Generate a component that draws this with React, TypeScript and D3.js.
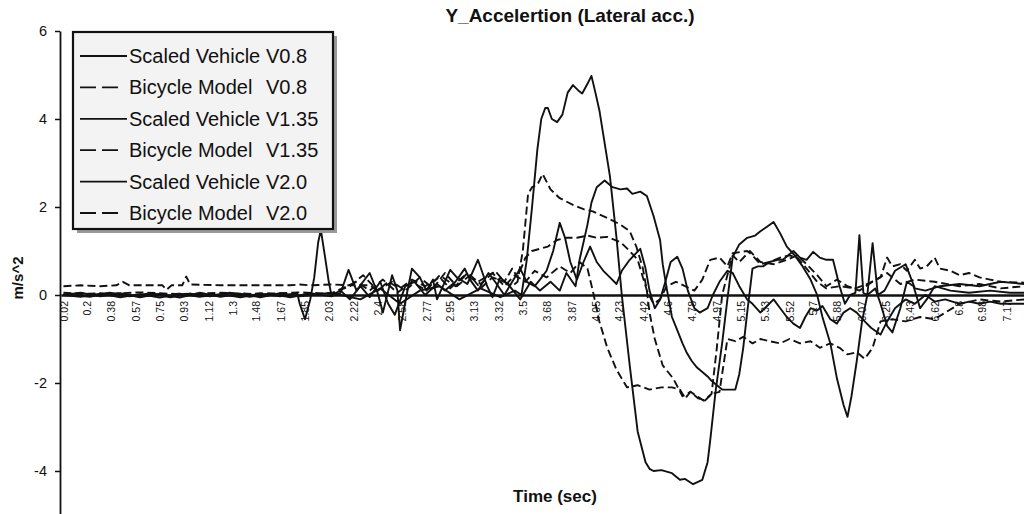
import React, { useEffect, useRef } from "react";
import * as d3 from "d3";

type Pt = [number, number];

// Axis ticks
const yTickValues = [6, 4, 2, 0, -2, -4];
const xTickLabels = [
  "0.02", "0.2", "0.38", "0.57", "0.75", "0.93", "1.12", "1.3", "1.48", "1.67",
  "1.85", "2.03", "2.22", "2.4", "2.58", "2.77", "2.95", "3.13", "3.32", "3.5",
  "3.68", "3.87", "4.05", "4.23", "4.42", "4.6", "4.78", "4.97", "5.15", "5.33",
  "5.52", "5.7", "5.88", "6.07", "6.25", "6.43", "6.62", "6.8", "6.98", "7.17",
];

// Lateral acceleration [time (s), m/s^2]
const scaledV08: Pt[] = [
  [0.02, 0.0], [0.15, -0.04], [0.3, 0.03], [0.45, -0.05], [0.6, 0.02], [0.75, -0.06], [0.9, 0.03],
  [1.05, -0.04], [1.21, 0.02], [1.36, -0.05], [1.51, 0.03], [1.66, -0.03], [1.74, 0.02], [1.79, 0.05],
  [1.81, -0.2], [1.85, -0.55], [1.89, -0.1], [1.92, 0.4], [1.95, 1.2], [1.97, 1.48], [2.0, 0.9],
  [2.03, 0.3], [2.05, 0.0], [2.12, 0.1], [2.19, -0.1], [2.27, 0.2], [2.34, -0.05], [2.42, 0.3],
  [2.48, -0.2], [2.53, -0.45], [2.61, 0.2], [2.68, 0.3], [2.76, 0.0], [2.85, 0.25], [2.91, 0.1],
  [2.99, 0.3], [3.06, 0.6], [3.1, 0.35], [3.16, 0.1], [3.24, 0.5], [3.29, 0.3], [3.36, 0.0],
  [3.42, 0.3], [3.48, 0.6], [3.53, 0.3], [3.59, 0.2], [3.63, 0.35], [3.68, 0.55], [3.73, 1.0],
  [3.78, 1.64], [3.82, 1.3], [3.86, 0.75], [3.91, 0.35], [3.96, 0.75], [4.01, 1.1], [4.06, 0.75],
  [4.11, 0.55], [4.16, 0.4], [4.21, 0.25], [4.25, 0.55], [4.31, 0.8], [4.39, 1.05], [4.43, 0.6],
  [4.46, 0.1], [4.5, -0.3], [4.54, -0.1], [4.58, 0.3], [4.62, 0.75], [4.67, 0.87], [4.71, 0.6],
  [4.75, 0.1], [4.8, -0.3], [4.84, -0.4], [4.9, -0.3], [4.94, 0.0], [4.99, 0.3], [5.05, 0.55],
  [5.09, 0.5], [5.14, 0.2], [5.2, -0.1], [5.24, -0.2], [5.3, -0.4], [5.35, -0.25], [5.4, -0.1],
  [5.45, -0.3], [5.5, -0.5], [5.55, -0.65], [5.6, -0.75], [5.64, -0.5], [5.68, -0.3], [5.73, -0.35],
  [5.77, -0.25], [5.83, -0.55], [5.88, -0.65], [5.93, -0.4], [5.98, -0.3], [6.03, -0.4], [6.09, -0.6],
  [6.14, -0.75], [6.21, -0.9], [6.26, -0.6], [6.32, -0.3], [6.4, -0.1], [6.47, -0.2], [6.55, 0.0],
  [6.62, -0.15], [6.7, -0.1], [6.81, -0.2], [6.88, -0.15], [6.96, -0.2], [7.04, -0.15], [7.12, -0.2],
  [7.3, -0.2],
];

const bicycleV08: Pt[] = [
  [0.02, 0.2], [0.15, 0.22], [0.3, 0.2], [0.42, 0.22], [0.47, 0.3], [0.52, 0.22], [0.68, 0.22],
  [0.77, 0.22], [0.8, 0.12], [0.84, 0.22], [0.92, 0.22], [0.95, 0.42], [0.98, 0.24], [1.21, 0.22],
  [1.43, 0.22], [1.74, 0.22], [1.81, 0.24], [1.89, 0.22], [2.05, 0.24], [2.19, 0.22], [2.34, 0.22],
  [2.4, 0.1], [2.48, 0.3], [2.57, 0.15], [2.66, 0.35], [2.76, 0.2], [2.87, 0.4], [2.95, 0.15],
  [3.06, 0.45], [3.16, 0.3], [3.27, 0.5], [3.36, 0.2], [3.44, 0.45], [3.52, 0.3], [3.59, 0.55],
  [3.68, 0.4], [3.78, 0.65], [3.86, 0.5], [3.93, 0.75], [3.99, 0.6], [4.03, 0.1], [4.08, -0.6],
  [4.14, -1.2], [4.21, -1.7], [4.29, -2.1], [4.37, -2.05], [4.46, -2.15], [4.55, -2.1], [4.63, -2.1],
  [4.69, -2.15], [4.73, -2.35], [4.77, -2.2], [4.83, -2.35], [4.88, -2.4], [4.93, -2.25], [4.99, -2.2],
  [5.05, -1.0], [5.11, -1.05], [5.17, -0.95], [5.24, -1.1], [5.3, -1.0], [5.37, -1.05], [5.45, -1.1],
  [5.52, -1.0], [5.6, -1.1], [5.68, -1.05], [5.75, -1.2], [5.83, -1.1], [5.9, -1.2], [5.96, -1.35],
  [6.03, -1.3], [6.09, -1.45], [6.15, -1.2], [6.21, -0.6], [6.3, -0.55], [6.4, -0.6], [6.51, -0.5],
  [6.62, -0.55], [6.7, -0.4], [6.81, -0.2], [6.96, -0.1], [7.12, -0.15], [7.3, -0.1],
];

const scaledV135: Pt[] = [
  [0.02, 0.02], [0.22, -0.04], [0.37, 0.05], [0.52, -0.03], [0.68, 0.04], [0.83, -0.05], [0.98, 0.03],
  [1.13, -0.03], [1.28, 0.05], [1.43, -0.04], [1.58, 0.03], [1.74, -0.05], [1.89, 0.04], [2.05, -0.03],
  [2.12, 0.05], [2.18, 0.57], [2.24, 0.1], [2.29, 0.3], [2.34, 0.5], [2.4, 0.05], [2.44, -0.4],
  [2.51, 0.45], [2.55, 0.1], [2.57, -0.8], [2.62, 0.0], [2.66, 0.6], [2.72, 0.4], [2.77, 0.1],
  [2.82, 0.35], [2.85, -0.1], [2.95, 0.57], [3.0, 0.4], [3.08, 0.25], [3.16, 0.8], [3.23, 0.2],
  [3.27, -0.05], [3.33, 0.4], [3.4, 0.2], [3.48, -0.1], [3.56, 0.3], [3.63, 0.1], [3.71, 0.3],
  [3.78, 0.1], [3.83, 0.5], [3.9, 0.2], [3.93, 0.8], [3.99, 1.6], [4.02, 2.1], [4.06, 2.45],
  [4.12, 2.6], [4.18, 2.45], [4.24, 2.4], [4.29, 2.42], [4.33, 2.3], [4.39, 2.35], [4.44, 2.25],
  [4.49, 1.8], [4.54, 1.25], [4.56, 0.7], [4.59, 0.15], [4.63, -0.5], [4.67, -0.8], [4.71, -1.1],
  [4.74, -1.3], [4.78, -1.5], [4.82, -1.65], [4.86, -1.75], [4.9, -1.85], [4.93, -1.95], [4.97, -2.05],
  [5.01, -2.15], [5.05, -2.15], [5.11, -2.15], [5.14, -1.8], [5.17, -1.2], [5.2, -0.4], [5.22, 0.1],
  [5.24, 0.6], [5.28, 0.65], [5.32, 0.65], [5.37, 0.75], [5.43, 0.8], [5.47, 0.8], [5.55, 1.0],
  [5.6, 0.85], [5.65, 0.8], [5.7, 0.98], [5.75, 0.85], [5.8, 0.8], [5.85, 0.8], [5.9, 0.2],
  [5.94, -0.2], [5.98, 0.0], [6.02, 0.05], [6.05, 1.36], [6.08, 0.05], [6.11, 0.0], [6.15, 1.18],
  [6.19, 0.0], [6.24, 0.1], [6.32, 0.55], [6.4, 0.7], [6.47, 0.15], [6.55, 0.1], [6.66, 0.2],
  [6.81, 0.25], [6.96, 0.2], [7.12, 0.3], [7.3, 0.25],
];

const bicycleV135: Pt[] = [
  [0.02, 0.05], [0.3, 0.02], [0.6, 0.06], [0.9, 0.02], [1.21, 0.05], [1.51, 0.02], [1.81, 0.06],
  [2.05, 0.03], [2.19, 0.2], [2.29, 0.45], [2.4, 0.1], [2.51, 0.3], [2.61, 0.1], [2.72, 0.4],
  [2.82, 0.15], [2.91, 0.5], [3.0, 0.2], [3.1, 0.45], [3.18, 0.15], [3.27, 0.4], [3.36, 0.3],
  [3.42, 0.6], [3.46, 0.4], [3.52, 0.85], [3.57, 1.0], [3.63, 1.05], [3.69, 1.1], [3.76, 1.25],
  [3.83, 1.3], [3.91, 1.3], [3.99, 1.35], [4.06, 1.3], [4.14, 1.32], [4.24, 1.2], [4.31, 1.0],
  [4.37, 0.8], [4.41, 0.4], [4.44, 0.1], [4.49, -0.2], [4.54, -0.1], [4.59, 0.2], [4.66, 0.3],
  [4.8, 0.1], [4.86, 0.35], [4.92, 0.8], [4.99, 0.85], [5.05, 0.65], [5.09, 0.95], [5.2, 1.0],
  [5.24, 0.9], [5.3, 0.7], [5.37, 0.75], [5.45, 0.85], [5.52, 0.9], [5.58, 0.85], [5.65, 0.6],
  [5.73, 0.3], [5.8, 0.15], [5.9, 0.2], [6.02, 0.15], [6.11, 0.25], [6.21, 0.4], [6.26, 0.85],
  [6.3, 0.65], [6.36, 0.7], [6.41, 0.55], [6.47, 0.8], [6.51, 0.6], [6.56, 0.65], [6.62, 0.85],
  [6.66, 0.6], [6.74, 0.55], [6.81, 0.45], [6.88, 0.5], [6.96, 0.4], [7.04, 0.35], [7.12, 0.3],
  [7.3, 0.28],
];

const scaledV20: Pt[] = [
  [0.02, 0.0], [0.15, 0.05], [0.3, -0.03], [0.45, 0.04], [0.6, -0.05], [0.75, 0.03], [0.9, -0.06],
  [1.05, 0.05], [1.21, -0.04], [1.36, 0.03], [1.51, -0.05], [1.66, 0.04], [1.81, -0.03], [2.05, 0.05],
  [2.27, -0.1], [2.42, 0.15], [2.57, -0.2], [2.72, 0.1], [2.87, 0.2], [3.02, -0.1], [3.18, 0.15],
  [3.33, -0.05], [3.44, 0.1], [3.49, 0.0], [3.53, 0.8], [3.57, 2.0], [3.61, 3.3], [3.64, 4.0],
  [3.67, 4.25], [3.69, 4.25], [3.72, 4.0], [3.76, 3.93], [3.8, 4.1], [3.84, 4.6], [3.88, 4.77],
  [3.92, 4.65], [3.95, 4.58], [3.99, 4.8], [4.02, 4.98], [4.05, 4.6], [4.08, 4.2], [4.16, 2.7],
  [4.21, 1.3], [4.25, 0.0], [4.31, -1.6], [4.37, -3.1], [4.43, -3.8], [4.46, -3.95], [4.49, -4.0],
  [4.55, -3.98], [4.63, -4.05], [4.69, -4.2], [4.73, -4.18], [4.79, -4.3], [4.86, -4.2], [4.9, -3.8],
  [4.92, -3.3], [4.96, -2.2], [5.01, -1.1], [5.05, -0.1], [5.09, 0.86], [5.14, 1.15], [5.2, 1.3],
  [5.26, 1.35], [5.3, 1.45], [5.35, 1.55], [5.4, 1.66], [5.45, 1.4], [5.5, 1.1], [5.56, 0.9],
  [5.62, 0.65], [5.68, 0.35], [5.73, 0.0], [5.77, -0.5], [5.83, -1.1], [5.88, -1.9], [5.93, -2.5],
  [5.96, -2.77], [5.99, -2.3], [6.03, -1.5], [6.07, -0.6], [6.11, 0.0], [6.17, 0.15], [6.21, -0.2],
  [6.26, -0.7], [6.3, -0.85], [6.36, -0.3], [6.41, 0.3], [6.46, 0.2], [6.51, -0.3], [6.56, -0.1],
  [6.62, 0.2], [6.74, 0.1], [6.88, 0.05], [7.04, 0.1], [7.19, 0.05], [7.3, 0.05],
];

const bicycleV20: Pt[] = [
  [0.02, 0.0], [0.3, 0.04], [0.6, -0.02], [0.9, 0.03], [1.21, -0.02], [1.51, 0.04], [1.81, 0.0],
  [2.05, 0.04], [2.24, 0.3], [2.34, 0.1], [2.44, 0.35], [2.55, 0.05], [2.66, 0.3], [2.77, 0.1],
  [2.87, 0.45], [2.99, 0.2], [3.08, 0.5], [3.18, 0.25], [3.29, 0.55], [3.36, 0.3], [3.42, 0.2],
  [3.46, 0.3], [3.5, 1.0], [3.54, 2.3], [3.57, 2.45], [3.61, 2.5], [3.65, 2.75], [3.71, 2.4],
  [3.78, 2.2], [3.88, 2.05], [3.96, 1.95], [4.03, 1.9], [4.14, 1.75], [4.24, 1.6], [4.31, 1.45],
  [4.36, 1.1], [4.41, 0.6], [4.44, 0.1], [4.46, -0.4], [4.5, -1.0], [4.56, -1.6], [4.64, -1.9],
  [4.71, -2.3], [4.77, -2.2], [4.82, -2.3], [4.87, -2.4], [4.93, -2.25], [4.97, -1.2], [5.01, 0.0],
  [5.09, 0.9], [5.14, 0.75], [5.22, 1.0], [5.3, 0.75], [5.4, 0.7], [5.5, 0.8], [5.58, 0.9],
  [5.65, 0.7], [5.73, 0.45], [5.8, 0.2], [5.88, 0.35], [5.96, 0.2], [6.05, 0.1], [6.15, 0.3],
  [6.26, 0.5], [6.36, 0.25], [6.47, 0.35], [6.62, 0.3], [6.81, 0.2], [6.96, 0.25], [7.12, 0.15],
  [7.3, 0.2],
];

const legendNames = ["Scaled Vehicle", "Bicycle Model", "Scaled Vehicle", "Bicycle Model", "Scaled Vehicle", "Bicycle Model"];
const legendVersions = ["V0.8", "V0.8", "V1.35", "V1.35", "V2.0", "V2.0"];
const seriesData = [scaledV08, bicycleV08, scaledV135, bicycleV135, scaledV20, bicycleV20];
const seriesDashed = [false, true, false, true, false, true];

const FONT = "'Liberation Sans', Arial, sans-serif";
const INK = "#111";
const W = 1024;
const H = 514;

const x = d3.scaleLinear().domain([0, 7.3]).range([60.8, 1024.4]);
const y = d3.scaleLinear().domain([-5, 6]).range([515, 31]);
const line = d3.line<Pt>().x((d) => x(d[0])).y((d) => y(d[1]));

export default function App() {
  const yAxisRef = useRef<SVGGElement>(null);
  const xAxisRef = useRef<SVGGElement>(null);

  useEffect(() => {
    const gy = d3.select(yAxisRef.current!);
    gy.call(
      d3.axisLeft(y).tickValues(yTickValues).tickSize(5).tickSizeOuter(0).tickPadding(8)
        .tickFormat((d) => String(d))
    );
    gy.select(".domain").attr("stroke", INK).attr("stroke-width", 1.8);
    gy.selectAll(".tick line").attr("stroke", INK).attr("stroke-width", 1.5);
    gy.selectAll(".tick text").attr("font-family", FONT).attr("font-size", 14.5).attr("fill", INK);

    const gx = d3.select(xAxisRef.current!);
    gx.call(
      d3.axisBottom(x).tickValues(xTickLabels.map(Number)).tickSize(0).tickSizeOuter(0)
        .tickFormat((_, i) => xTickLabels[i])
    );
    gx.select(".domain").attr("stroke", INK).attr("stroke-width", 2.6);
    gx.selectAll(".tick text")
      .attr("font-family", FONT)
      .attr("font-size", 10.5)
      .attr("fill", INK)
      .attr("transform", "rotate(-90)")
      .attr("text-anchor", "end")
      .attr("x", -6)
      .attr("y", 0)
      .attr("dy", "0.35em");
  }, []);

  const legendX = 73;
  const legendY = 32;
  const legendW = 260;
  const legendH = 197;
  const rowBase = 63;
  const rowStep = 31.4;

  return (
    <svg width={W} height={H} style={{ position: "absolute", left: 0, top: 0, background: "#fff" }}>
      <text x={570} y={22} textAnchor="middle" fontFamily={FONT} fontWeight="bold" fontSize={19} fill={INK}>
        Y_Accelertion (Lateral acc.)
      </text>

      <g ref={xAxisRef} transform={`translate(0,${y(0)})`} />

      <g fill="none" stroke={INK} strokeWidth={1.9} strokeLinejoin="round">
        {seriesData.map((d, i) => (
          <path key={i} d={line(d) ?? ""} strokeDasharray={seriesDashed[i] ? "8,4" : undefined} />
        ))}
      </g>

      <g ref={yAxisRef} transform="translate(60,0)" />

      <text
        transform={`translate(23,${278}) rotate(-90)`}
        textAnchor="middle"
        fontFamily={FONT}
        fontWeight="bold"
        fontSize={15}
        fill={INK}
      >
        m/s^2
      </text>

      <text x={555} y={502} textAnchor="middle" fontFamily={FONT} fontWeight="bold" fontSize={17} fill={INK}>
        Time (sec)
      </text>

      <g>
        <rect x={legendX + 4} y={legendY + 4} width={legendW} height={legendH} fill="#9a9a9a" />
        <rect x={legendX} y={legendY} width={legendW} height={legendH} fill="#f3f3f3" stroke={INK} strokeWidth={2.2} />
        {legendNames.map((name, i) => {
          const base = rowBase + i * rowStep;
          const ly = base - 7;
          return (
            <g key={i}>
              <line
                x1={80}
                x2={seriesDashed[i] ? 118 : 127}
                y1={ly}
                y2={ly}
                stroke={INK}
                strokeWidth={1.8}
                strokeDasharray={seriesDashed[i] ? "16,6" : undefined}
              />
              <text x={129} y={base} fontFamily={FONT} fontSize={20} fill={INK}>
                {name}
              </text>
              <text x={266} y={base} fontFamily={FONT} fontSize={20} fill={INK}>
                {legendVersions[i]}
              </text>
            </g>
          );
        })}
      </g>
    </svg>
  );
}
